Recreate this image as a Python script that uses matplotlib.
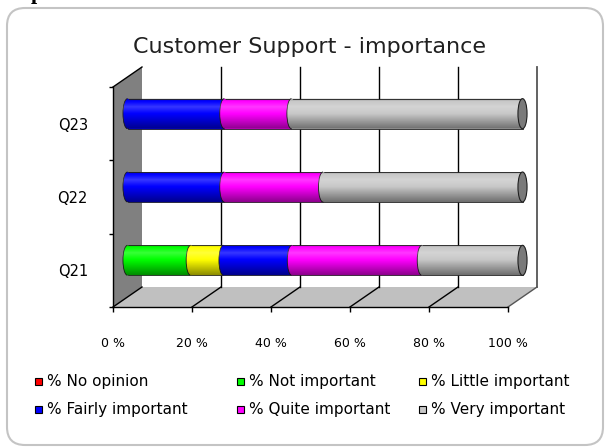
import numpy as np
import matplotlib
matplotlib.use("Agg")
import matplotlib.pyplot as plt
from matplotlib.patches import Rectangle, Ellipse, Arc, Polygon, FancyBboxPatch, PathPatch
from matplotlib.path import Path
from matplotlib.lines import Line2D
from matplotlib.transforms import ScaledTranslation, IdentityTransform

# survey answers, percent of respondents per question
questions = ["Q21", "Q22", "Q23"]
series = ["% No opinion", "% Not important", "% Little important",
          "% Fairly important", "% Quite important", "% Very important"]
no_opinion = [0, 0, 0]
not_important = [16, 0, 0]
little_important = [8.3, 0, 0]
fairly_important = [17.3, 24.5, 24.5]
quite_important = [32.9, 25, 17]
very_important = [25.5, 50.5, 58.5]
colors = ["#ff0000", "#00ff00", "#ffff00", "#0000ff", "#ff00ff", "#c8c8c8"]
xticks = [0, 20, 40, 60, 80, 100]
xtick_labels = ["0 %", "20 %", "40 %", "60 %", "80 %", "100 %"]
title = "Customer Support - importance"

W, H = 606, 448
fig = plt.figure(figsize=(W / 100, H / 100), dpi=100)
ax = fig.add_axes([113 / W, 1 - 307 / H, (508 - 113) / W, (307 - 87) / H])
ax.set_xlim(0, 100)
ax.set_ylim(-0.5, 2.5)
ax.patch.set_visible(False)

ident = IdentityTransform()
depth = np.array([29.0, 20.0])  # pixel offset from front plane to back wall


def P(x, y, d=0.0):
    return ax.transData.transform((x, y)) + d * depth


def seg(a, b, color="black", lw=1.0, z=2):
    ax.add_line(Line2D([a[0], b[0]], [a[1], b[1]], transform=ident, color=color,
                       lw=lw, zorder=z, clip_on=False))


# outer frame
fig.add_artist(FancyBboxPatch((7, 3), 596, 437, boxstyle="round,pad=0,rounding_size=18",
                              transform=ident, facecolor="none", edgecolor="#c4c4c4",
                              lw=1.5, zorder=-1))

# floor and left wall
ax.add_patch(Polygon([P(0, -0.5), P(100, -0.5), P(100, -0.5, 1), P(0, -0.5, 1)],
                     transform=ident, facecolor="#c0c0c0", edgecolor="none", zorder=1, clip_on=False))
ax.add_patch(Polygon([P(0, -0.5), P(0, 2.5), P(0, 2.5, 1), P(0, -0.5, 1)],
                     transform=ident, facecolor="#808080", edgecolor="none", zorder=1, clip_on=False))
seg(P(0, 2.5), P(0, 2.5, 1))
seg(P(0, -0.5), P(0, -0.5, 1))

# gridlines on the back wall and across the floor
for xv in xticks[1:]:
    c = "#555555" if xv == 100 else "black"
    seg(P(xv, -0.5, 1), P(xv, 2.5, 1), color=c, lw=1.3 if xv == 100 else 1.0)
    seg(P(xv, -0.5), P(xv, -0.5, 1), color=c)

# cylinders sit halfway into the depth
half = ax.transData + ScaledTranslation(depth[0] / 200, depth[1] / 200, fig.dpi_scale_trans)
values = [no_opinion, not_important, little_important,
          fairly_important, quite_important, very_important]
ypos = np.arange(len(questions))
bar_h = 0.41
ell_w = 2.3
left = np.zeros(len(questions))
for vals, col in zip(values, colors):
    vals = np.array(vals, dtype=float)
    bars = ax.barh(ypos, vals, left=left, height=bar_h, color=col,
                   edgecolor="#202020", linewidth=0.6, zorder=3)
    for b, v in zip(bars, vals):
        b.set_transform(half)
        b.set_clip_on(False)
        b.set_visible(v > 0)
    for yi, v, l in zip(ypos, vals, left):
        if v <= 0:
            continue
        ax.add_patch(Ellipse((l, yi), ell_w, bar_h, facecolor=col, edgecolor="none",
                             transform=half, zorder=3, clip_on=False))
        ax.add_patch(Arc((l, yi), ell_w, bar_h, theta1=90, theta2=270, color="#202020",
                         lw=0.6, transform=half, zorder=3, clip_on=False))
    left += vals

# cylinder shading: highlight near the top, shadow underneath
t = np.linspace(0, 1, 60)
shade = np.interp(t, [0, 0.1, 0.28, 0.5, 1], [-0.3, 0.0, 0.22, 0.0, -0.45])
grad = np.zeros((len(t), 1, 4))
grad[:, 0, :3] = (shade > 0)[:, None].astype(float)
grad[:, 0, 3] = np.abs(shade)
a = ell_w / 2
th = np.linspace(0, np.pi, 30)
for yi, total in zip(ypos, left):
    b2 = bar_h / 2
    verts = [(0, yi + b2), (total, yi + b2), (total, yi - b2), (0, yi - b2)]
    verts += list(zip(-a * np.sin(th), yi - b2 * np.cos(th)))
    verts.append((0, yi + b2))
    clip = PathPatch(Path(verts), transform=half)
    im = ax.imshow(grad, extent=(-a, total, yi - b2, yi + b2), aspect="auto",
                   interpolation="bilinear", transform=half, zorder=3.5)
    im.set_clip_path(clip)
    im.set_clip_box(fig.bbox)
    # end cap
    ax.add_patch(Ellipse((total, yi), ell_w, bar_h, facecolor="#7a7a7a", edgecolor="#202020",
                         lw=0.8, transform=half, zorder=4, clip_on=False))

ax.set_xlim(0, 100)
ax.set_ylim(-0.5, 2.5)

# front axes
for s in ["top", "right"]:
    ax.spines[s].set_visible(False)
for s in ["left", "bottom"]:
    ax.spines[s].set_linewidth(1.0)
    ax.spines[s].set_zorder(2.5)
ax.set_xticks(xticks, xtick_labels)
ax.tick_params(axis="x", direction="out", length=3.6, width=1, pad=18, labelsize=9)
ax.set_yticks([-0.5, 0.5, 1.5, 2.5], [])
ax.set_yticks(ypos, questions, minor=True)
ax.tick_params(axis="y", which="major", direction="out", length=3, width=1)
ax.tick_params(axis="y", which="minor", length=0, pad=18, labelsize=10.5)

fig.text(309.5 / W, 1 - 47 / H, title, ha="center", va="center", fontsize=16, color="#202020")
fig.text(31 / W, 1 + 1 / H, "p", ha="left", va="baseline", fontsize=16,
         fontweight="bold", family="Liberation Serif")

# legend, three columns by two rows
col_x = [35, 237, 419]
row_y = [381, 409]
for i, (name, col) in enumerate(zip(series, colors)):
    x, y = col_x[i % 3], row_y[i // 3]
    fig.add_artist(Rectangle((x, H - y - 3.5), 7, 7, transform=ident,
                             facecolor=col, edgecolor="black", lw=0.8))
    fig.text((x + 12) / W, 1 - y / H, name, ha="left", va="center", fontsize=11)

fig.savefig("out.png", dpi=100)
